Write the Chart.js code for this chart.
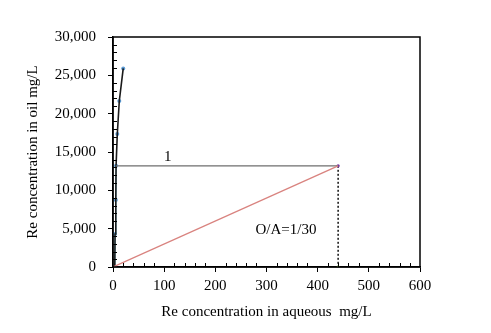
<!DOCTYPE html>
<html>
<head>
<meta charset="utf-8">
<script src="https://cdn.jsdelivr.net/npm/chart.js@4.4.1/dist/chart.umd.min.js"></script>
<style>
body { margin: 0; background: #fff; }
#wrap { width: 491px; height: 333px; }
</style>
</head>
<body>
<div id="wrap"><canvas id="myChart"></canvas></div>
<script>
// equilibrium curve (aqueous vs oil)
const eqX = [3.5, 4, 5.5, 6, 8.4, 12.3, 20];
const eqY = [0, 4300, 8740, 13200, 17350, 21650, 25900];
// step lines
const stageX = [6, 440];
const stageY = [13200, 13200];
const dropX = [440, 440];
const dropY = [13200, 0];
const riseX = [3.5, 4, 5.5, 6];
const riseY = [0, 4300, 8740, 13200];
// operating line O/A = 1/30
const opX = [0, 440];
const opY = [0, 13200];
// text notes
const noteText = ['1', 'O/A=1/30'];
const noteX = [107, 338];
const noteY = [14400, 4850];

const serif = "'Liberation Serif', 'Times New Roman', serif";

function pts(xs, ys) {
    return xs.map((x, i) => ({x: x, y: ys[i]}));
}

// frame, minor ticks and notes
const extras = {
    id: 'extras',
    afterDatasetsDraw(chart) {
        const c = chart.ctx;
        const a = chart.chartArea;
        const xs = chart.scales.x, ys = chart.scales.y;
        c.save();
        c.strokeStyle = '#000';
        c.lineWidth = 1;
        for (let v = 20; v < 600; v += 20) {
            if (v % 100 === 0) continue;
            const px = Math.round(xs.getPixelForValue(v)) + 0.5;
            c.beginPath(); c.moveTo(px, a.bottom); c.lineTo(px, a.bottom - 4); c.stroke();
        }
        for (let v = 1000; v < 30000; v += 1000) {
            if (v % 5000 === 0) continue;
            const py = Math.round(ys.getPixelForValue(v)) + 0.5;
            c.beginPath(); c.moveTo(a.left, py); c.lineTo(a.left + 4, py); c.stroke();
        }
        c.lineWidth = 1.5;
        c.strokeRect(a.left, a.top, a.right - a.left, a.bottom - a.top);
        c.fillStyle = '#000';
        c.font = '15px ' + serif;
        c.textAlign = 'center';
        c.textBaseline = 'middle';
        noteText.forEach((t, i) => {
            c.fillText(t, xs.getPixelForValue(noteX[i]), ys.getPixelForValue(noteY[i]));
        });
        c.restore();
    }
};

const ctx = document.getElementById('myChart').getContext('2d');
const chart = new Chart(ctx, {
    type: 'scatter',
    data: {
        datasets: [{
            data: pts(opX, opY),
            showLine: true,
            borderColor: '#d9837f',
            borderWidth: 1.3,
            pointRadius: 0
        }, {
            data: pts(stageX, stageY),
            showLine: true,
            borderColor: '#6e6e6e',
            borderWidth: 1.3,
            pointRadius: 0
        }, {
            data: pts(dropX, dropY),
            showLine: true,
            borderColor: '#111',
            borderWidth: 1.5,
            borderDash: [2, 2],
            pointRadius: 1.6,
            pointBorderWidth: 0,
            pointBackgroundColor: ['#7030a0', '#92d050']
        }, {
            data: pts(eqX, eqY),
            showLine: true,
            borderColor: '#1a1a1a',
            borderWidth: 1.6,
            pointRadius: 0
        }, {
            data: pts(riseX, riseY),
            showLine: true,
            borderColor: '#8fd4e8',
            borderWidth: 1.6,
            pointRadius: 0
        }, {
            data: pts(eqX, eqY),
            showLine: false,
            pointRadius: 2,
            pointBackgroundColor: '#5b9bd5',
            pointBorderWidth: 0
        }]
    },
    options: {
        responsive: true,
        maintainAspectRatio: false,
        animation: false,
        layout: { padding: { left: 0, right: 71, top: 37, bottom: 0 } },
        plugins: {
            legend: { display: false },
            tooltip: { enabled: false }
        },
        scales: {
            x: {
                type: 'linear',
                min: 0,
                max: 600,
                afterFit: (s) => { s.height = 66; },
                border: { color: '#000', width: 1.5 },
                grid: { drawOnChartArea: false, tickLength: 5, color: '#000' },
                ticks: { stepSize: 100, color: '#000', padding: 5, font: { family: serif, size: 15 } },
                title: {
                    display: true,
                    text: 'Re concentration in aqueous  mg/L',
                    color: '#000',
                    font: { family: serif, size: 15 },
                    padding: { top: 0, bottom: 12 }
                }
            },
            y: {
                type: 'linear',
                min: 0,
                max: 30000,
                afterFit: (s) => { s.width = 113; },
                border: { color: '#000', width: 1.5 },
                grid: { drawOnChartArea: false, tickLength: 5, color: '#000' },
                ticks: { stepSize: 5000, color: '#000', padding: 12, font: { family: serif, size: 15 } },
                title: {
                    display: true,
                    text: 'Re concentration in oil mg/L',
                    color: '#000',
                    font: { family: serif, size: 15 },
                    padding: { top: 24, bottom: 0 }
                }
            }
        }
    },
    plugins: [extras]
});
</script>
</body>
</html>
